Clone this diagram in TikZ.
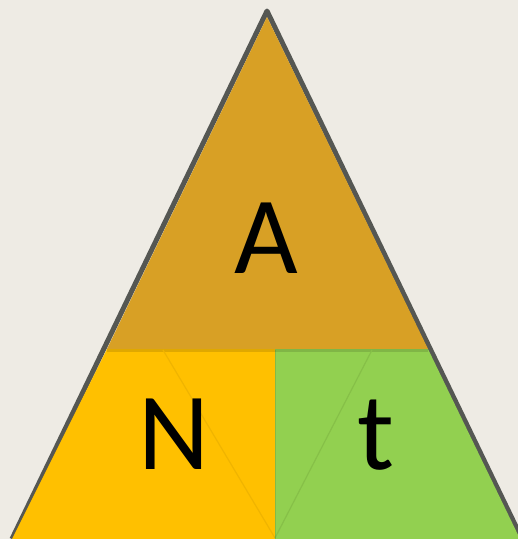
\documentclass[tikz,border=0pt]{standalone}
\usepackage{fontspec}
\setmainfont{Carlito}
\definecolor{bg}{HTML}{EEEBE4}
\definecolor{orangetop}{HTML}{D8A025}
\definecolor{yel}{HTML}{FFC000}
\definecolor{grn}{HTML}{92D050}
\definecolor{edge}{HTML}{555753}
\definecolor{yelline}{HTML}{F0B400}
\definecolor{grnline}{HTML}{86C048}
\tikzset{
  lbl/.style={anchor=base, inner sep=0pt, font=\fontsize{110}{110}\selectfont, text=black},
  faint/.style={line width=1.2pt}
}
\begin{document}
\begin{tikzpicture}[x=1pt,y=-1pt]
\fill[bg] (0,0) rectangle (518,539);
\useasboundingbox (0,0) rectangle (518,539);
% outer triangle outline
\coordinate (apex) at (267,11);
\coordinate (bl) at (12,539);
\coordinate (br) at (522,539);
\draw[edge, line width=5pt, line join=round] (bl) -- (apex) -- (br);
% top orange
\fill[orangetop] (267,17) -- (107,349) -- (428,349) -- cycle;
% bottom yellow
\fill[yel] (107,349) -- (275,349) -- (275,539) -- (12,539) -- cycle;
% bottom green
\fill[grn] (275,349) -- (428,349) -- (520,539) -- (275,539) -- cycle;
% shadows
\fill[black, opacity=0.12] (107,349) rectangle (428,352);
\draw[yelline, faint] (163,350) -- (275,538);
\draw[grnline, faint] (372,350) -- (275,538);
\draw[black, opacity=0.1, line width=1pt] (275,350) -- (275,539);
% labels
\node[lbl] (a) at (266,273) {A};
\node[lbl] (n) at (174,469) {N};
\node[lbl] (t) at (376,469) {t};
\end{tikzpicture}
\end{document}
